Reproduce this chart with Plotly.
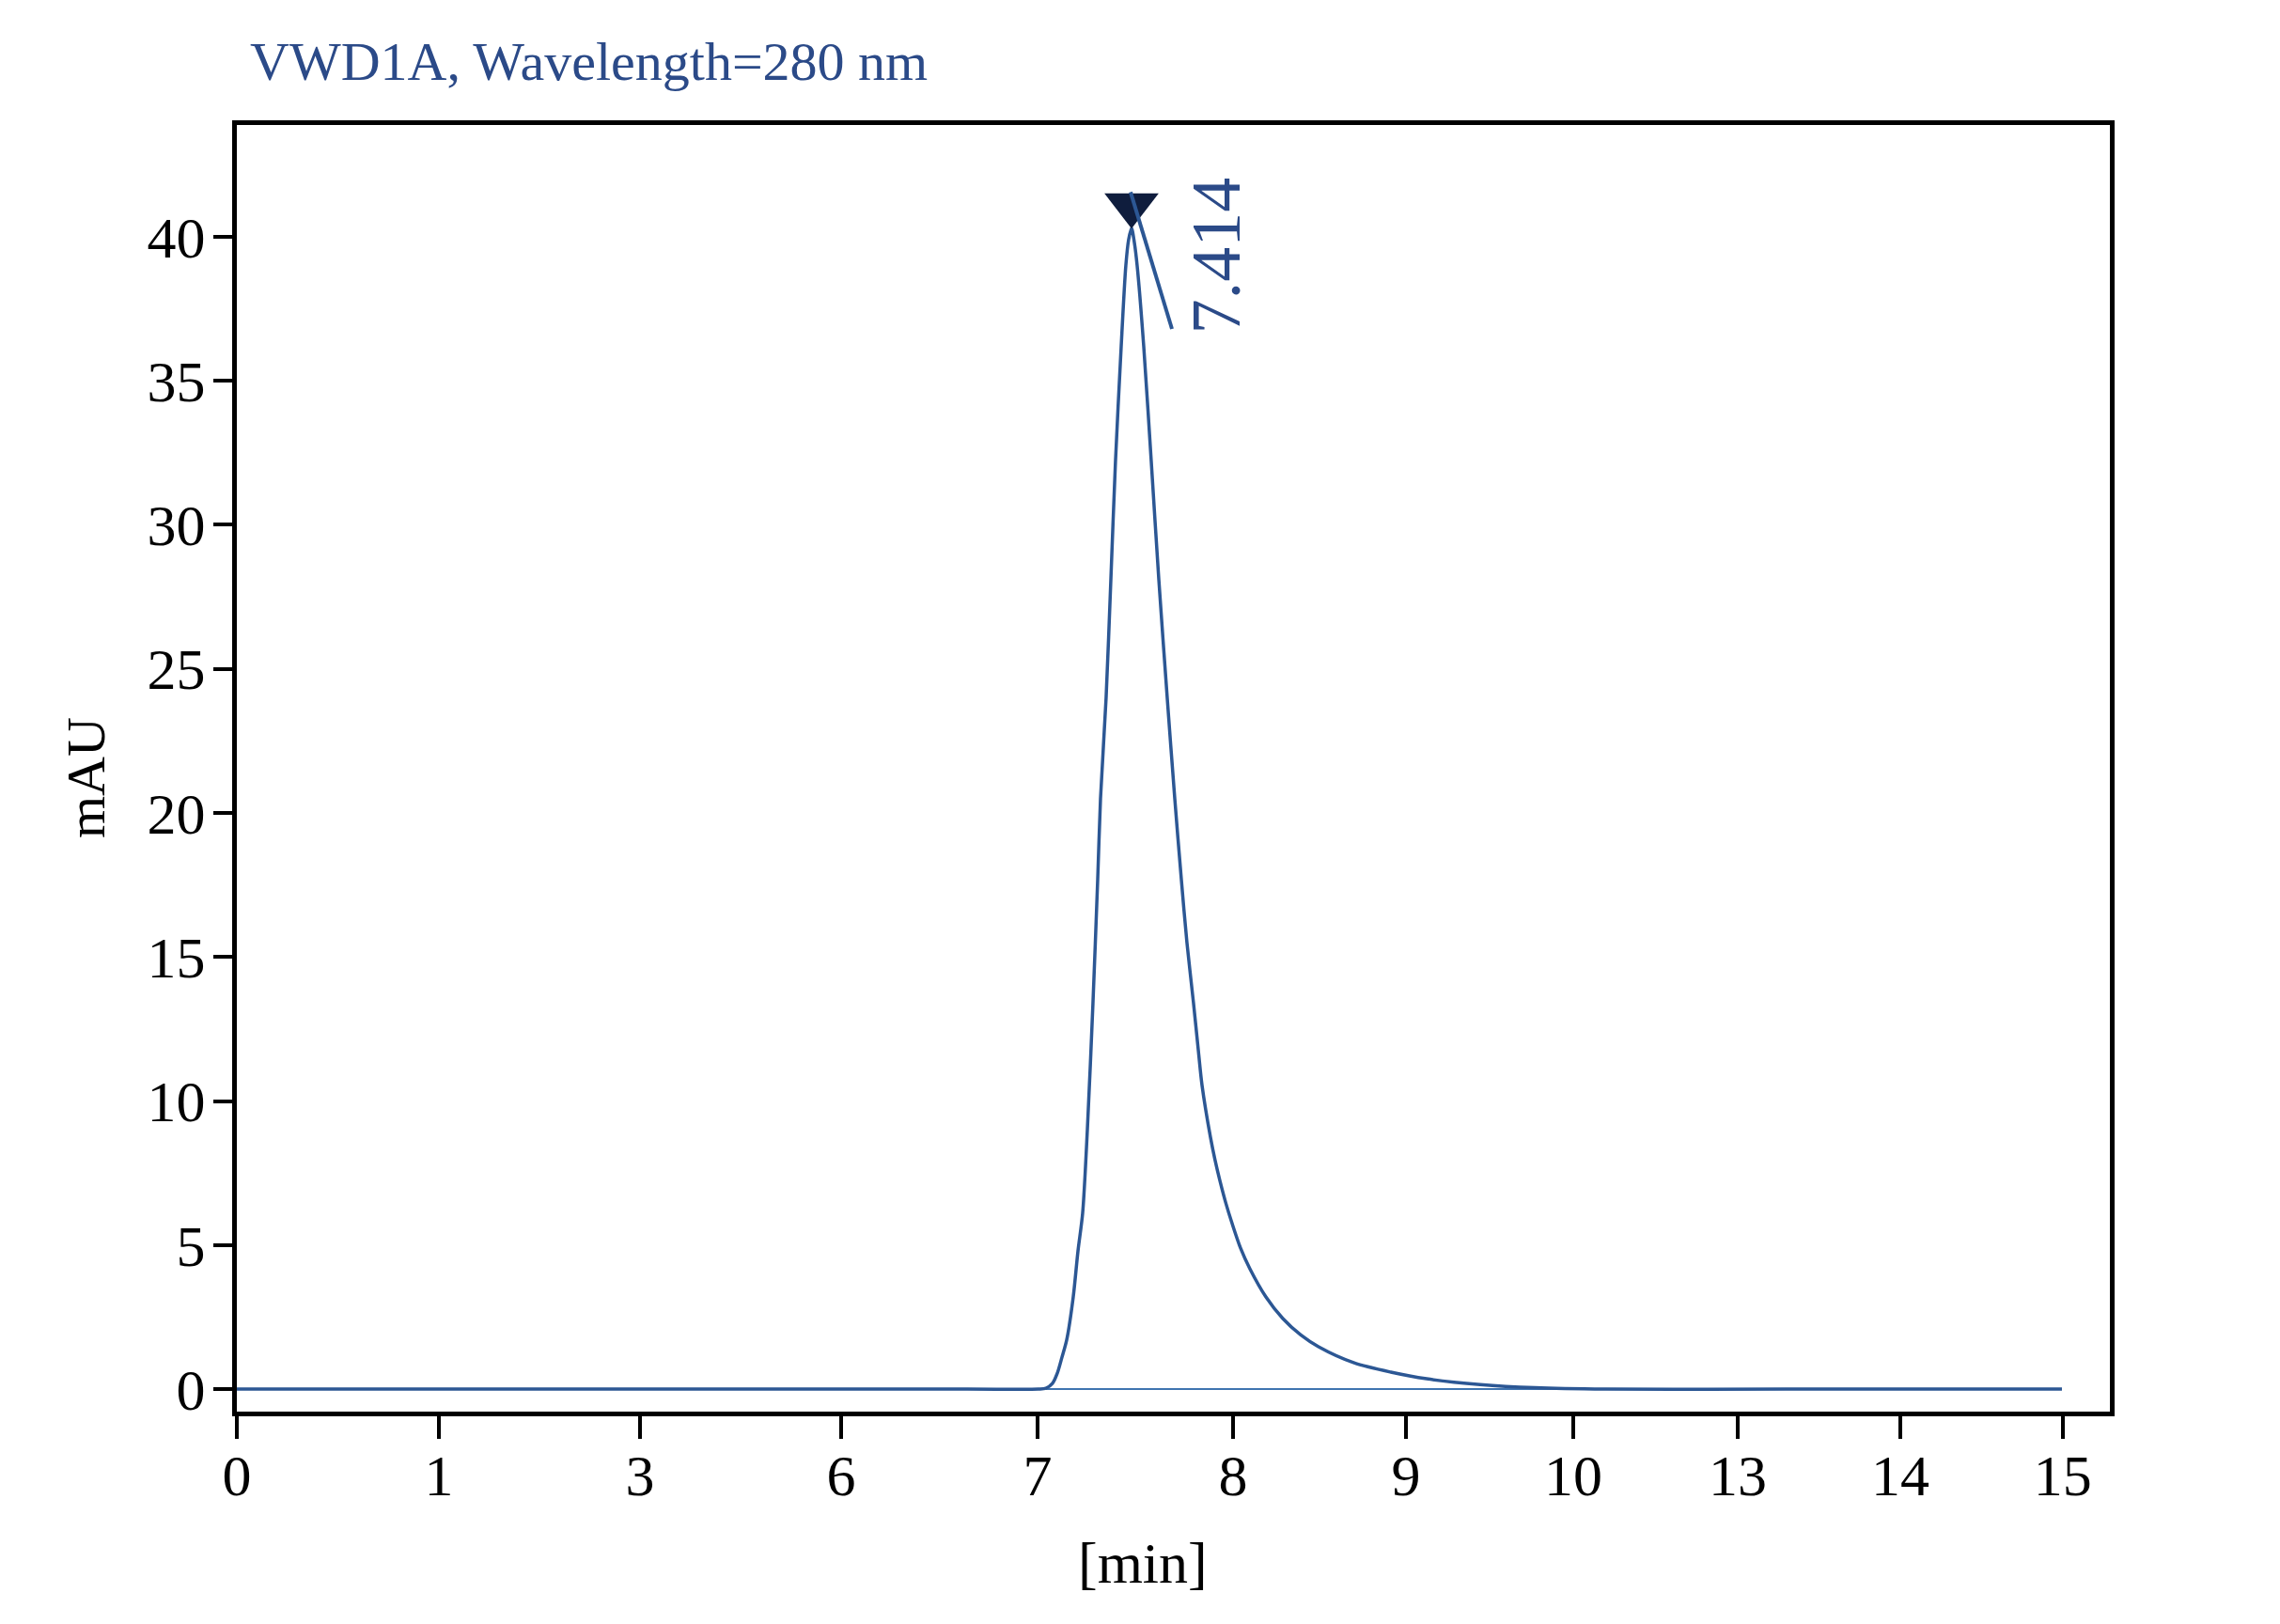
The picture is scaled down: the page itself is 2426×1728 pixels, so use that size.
import plotly.graph_objects as go

# ---- data (x in axis display units, labelled by tick_text) ----
time_u = [0.0, 3.0, 6.0, 6.585, 6.647, 6.701, 6.740, 6.778, 6.817, 6.871, 6.910, 6.948,
          6.987, 7.033, 7.072, 7.095, 7.141, 7.180, 7.218, 7.265, 7.303, 7.326, 7.350,
          7.373, 7.396, 7.450, 7.512, 7.574, 7.643, 7.705, 7.759, 7.805, 7.859, 7.900,
          7.929, 7.998, 8.036, 8.075, 8.125, 8.176, 8.245, 8.322, 8.454, 8.593, 8.740,
          8.886, 9.179, 9.480, 9.774, 10.214, 10.662, 11.248, 12.723, 14.993]
signal_mau = [0.0, 0.0, 0.0, 0.0, 0.03, 0.2, 0.55, 1.1, 1.7, 3.2, 4.8, 6.1,
              9.0, 13.4, 17.7, 20.5, 24.0, 28.1, 32.2, 36.2, 39.0, 39.9, 40.3,
              39.8, 39.0, 36.2, 32.2, 28.1, 24.0, 20.5, 17.7, 15.5, 13.4, 11.7,
              10.55, 8.75, 7.95, 7.25, 6.45, 5.75, 4.9, 4.18, 3.2, 2.45, 1.88,
              1.47, 0.91, 0.59, 0.36, 0.16, 0.05, 0.0, 0.0, 0.0]
baseline_u = [6.647, 11.5]
baseline_v = [0.0, 0.0]

tick_pos = [0.0, 1.660, 3.312, 4.964, 6.578, 8.183, 9.604, 10.978, 12.329, 13.665, 15.0]
tick_text = ["0", "1", "3", "6", "7", "8", "9", "10", "13", "14", "15"]
y_ticks = [0, 5, 10, 15, 20, 25, 30, 35, 40]

peak_label = "7.414"
title_text = "VWD1A, Wavelength=280 nm"

LINE = "#2c5794"
TXT = "#2b4a88"
FONT = "Liberation Serif"

ipk = max(range(len(signal_mau)), key=lambda i: signal_mau[i])
px, py = time_u[ipk], signal_mau[ipk]

fig = go.Figure()
fig.add_trace(go.Scatter(x=baseline_u, y=baseline_v, mode="lines",
                         line=dict(color="#3f74b0", width=2), showlegend=False))
fig.add_trace(go.Scatter(x=time_u, y=signal_mau, mode="lines",
                         line=dict(color=LINE, width=3.5, shape="spline", smoothing=0.8),
                         showlegend=False))
fig.add_trace(go.Scatter(x=[px], y=[py + 0.8], mode="markers",
                         marker=dict(symbol="triangle-down", size=50, color="#0f1d3d",
                                     line=dict(width=0)),
                         showlegend=False))
fig.add_shape(type="line", x0=px - 0.008, y0=py + 1.25, x1=px + 0.332, y1=py - 3.5,
              line=dict(color=LINE, width=4))

fig.add_annotation(x=px + 0.69, y=py - 0.95, text=peak_label, textangle=-90,
                   showarrow=False, font=dict(family=FONT, size=74, color=TXT))
fig.add_annotation(xref="paper", yref="paper", x=0.006, y=1.049, xanchor="left",
                   yanchor="middle", text=title_text, showarrow=False,
                   font=dict(family=FONT, size=58, color=TXT))
fig.add_annotation(xref="paper", yref="paper", x=0.4837, y=-0.1176, text="[min]",
                   showarrow=False, xanchor="center", yanchor="middle",
                   font=dict(family=FONT, size=62, color="black"))
fig.add_annotation(xref="paper", yref="paper", x=-0.0808, y=0.493, text="mAU",
                   textangle=-90, showarrow=False, xanchor="center", yanchor="middle",
                   font=dict(family=FONT, size=58, color="black"))

axis_common = dict(showgrid=False, zeroline=False, showline=True, linecolor="black",
                   linewidth=5, mirror=True, ticks="outside", tickcolor="black",
                   tickwidth=4, tickfont=dict(family=FONT, size=62, color="black"))

fig.update_xaxes(range=[0, 15.387], tickmode="array", tickvals=tick_pos,
                 ticktext=tick_text, ticklen=24, ticklabelstandoff=-14, **axis_common)
fig.update_yaxes(range=[-0.78, 43.88], tickmode="array", tickvals=y_ticks,
                 ticklen=20, ticklabelstandoff=-4, **axis_common)

fig.update_layout(width=2426, height=1728, margin=dict(l=252, r=181, t=133, b=226),
                  paper_bgcolor="white", plot_bgcolor="white",
                  font=dict(family=FONT))
fig.write_html("out.html")
